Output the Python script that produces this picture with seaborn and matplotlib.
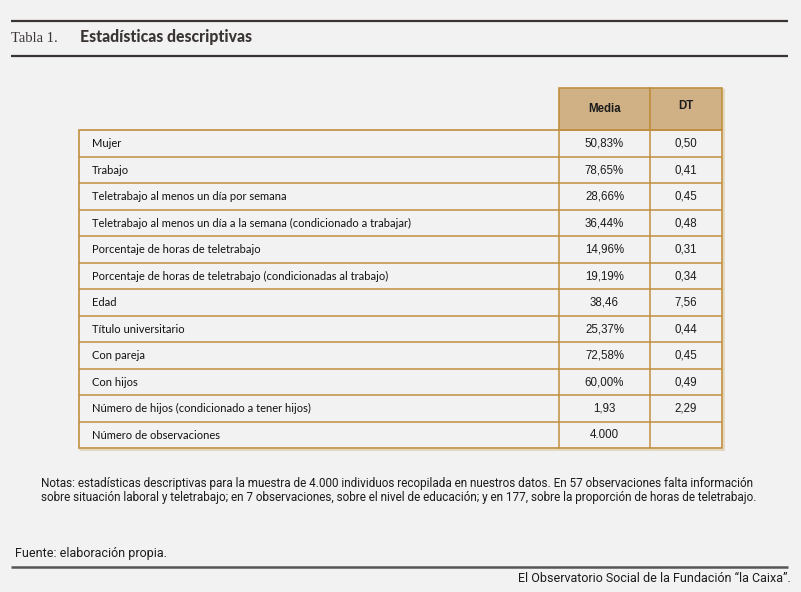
import matplotlib
matplotlib.use("Agg")
import matplotlib.pyplot as plt
from matplotlib import font_manager
from matplotlib.patches import Rectangle
import seaborn as sns

# ---------------- data ----------------
title_num = "Tabla 1."
title_text = "Estadísticas descriptivas"
col_headers = ["Media", "DT"]
row_labels = [
    "Mujer",
    "Trabajo",
    "Teletrabajo al menos un día por semana",
    "Teletrabajo al menos un día a la semana (condicionado a trabajar)",
    "Porcentaje de horas de teletrabajo",
    "Porcentaje de horas de teletrabajo (condicionadas al trabajo)",
    "Edad",
    "Título universitario",
    "Con pareja",
    "Con hijos",
    "Número de hijos (condicionado a tener hijos)",
    "Número de observaciones",
]
media_vals = ["50,83%", "78,65%", "28,66%", "36,44%", "14,96%", "19,19%",
              "38,46", "25,37%", "72,58%", "60,00%", "1,93", "4.000"]
dt_vals = ["0,50", "0,41", "0,45", "0,48", "0,31", "0,34",
           "7,56", "0,44", "0,45", "0,49", "2,29", ""]
notes_lines = [
    "Notas: estadísticas descriptivas para la muestra de 4.000 individuos recopilada en nuestros datos. En 57 observaciones falta información",
    "sobre situación laboral y teletrabajo; en 7 observaciones, sobre el nivel de educación; y en 177, sobre la proporción de horas de teletrabajo.",
]
source_text = "Fuente: elaboración propia."
footer_text = "El Observatorio Social de la Fundación “la Caixa”."

# ---------------- style ----------------
BG = "#f2f2f2"
GOLD = "#c08f3e"
SHADOW = "#e3d3b8"
HEAD = "#cfb185"
TXT = "#1c1c1c"
RULE = "#3a3533"

sns.set_theme(style="white", rc={"figure.facecolor": BG, "axes.facecolor": BG})

avail = {f.name for f in font_manager.fontManager.ttflist}
narrow = "Liberation Sans Narrow" if "Liberation Sans Narrow" in avail else "Roboto"
label_font = ["Lato", "DejaVu Sans"]
num_font = ["Liberation Sans", "DejaVu Sans"]

W, H = 801, 592
fig = plt.figure(figsize=(W / 100, H / 100), dpi=100)
ax = fig.add_axes([0, 0, 1, 1])
ax.set_xlim(0, W)
ax.set_ylim(H, 0)
ax.axis("off")

# title rules
ax.plot([11, 788], [21, 21], color=RULE, lw=1.6, solid_capstyle="butt")
ax.plot([11, 788], [56, 56], color=RULE, lw=1.6, solid_capstyle="butt")
ax.text(11, 38, title_num, family=["Liberation Serif", "DejaVu Serif"], fontsize=10.5,
        color=RULE, va="center", ha="left")
ax.text(80, 37, title_text, family=["Lato", "DejaVu Sans"], fontweight="black",
        fontsize=11.3, color=RULE, va="center", ha="left")

# table geometry
x_left, x_media, x_dt, x_right = 79, 559, 650, 722
y_head, y_top, y_bot = 88, 130, 448
n = len(row_labels)
rh = (y_bot - y_top) / n

# subtle shadow lines (right/bottom of borders)
ax.plot([x_right + 1.5, x_right + 1.5], [y_head + 1, y_bot + 1.5], color=SHADOW, lw=1.2)
ax.plot([x_left + 1, x_right + 1.5], [y_bot + 1.5, y_bot + 1.5], color=SHADOW, lw=1.2)

# header cells
for x0, x1, lab, dy in [(x_media, x_dt, col_headers[0], 0), (x_dt, x_right, col_headers[1], -3)]:
    ax.add_patch(Rectangle((x0, y_head), x1 - x0, y_top - y_head, facecolor=HEAD,
                           edgecolor=GOLD, lw=1.2))
    ax.text((x0 + x1) / 2, (y_head + y_top) / 2 + dy, lab, family=num_font,
            fontweight="bold", fontsize=8.3, color=TXT, ha="center", va="center")

# body
for i, (lab, m, d) in enumerate(zip(row_labels, media_vals, dt_vals)):
    y0 = y_top + i * rh
    yc = y0 + rh / 2 + 0.5
    ax.text(92, yc, lab, family=label_font, fontsize=8.0, color="#111111",
            ha="left", va="center")
    ax.text((x_media + x_dt) / 2, yc, m, family=num_font, fontsize=8.3, color=TXT,
            ha="center", va="center")
    ax.text((x_dt + x_right) / 2, yc, d, family=num_font, fontsize=8.3, color=TXT,
            ha="center", va="center")
    if i > 0:
        ax.plot([x_left, x_right], [y0, y0], color=GOLD, lw=1.1, solid_capstyle="butt")

ax.add_patch(Rectangle((x_left, y_top), x_right - x_left, y_bot - y_top, facecolor="none",
                       edgecolor=GOLD, lw=1.2))
for xv in (x_media, x_dt):
    ax.plot([xv, xv], [y_top, y_bot], color=GOLD, lw=1.1)

# notes
for k, line in enumerate(notes_lines):
    ax.text(41, 484 + k * 14, line, family=[narrow, "DejaVu Sans"], fontsize=8.45,
            color=TXT, ha="left", va="center")

ax.text(15, 554, source_text, family=[narrow, "DejaVu Sans"], fontsize=9.0, color=TXT,
        ha="left", va="center")
ax.plot([11, 788], [567, 567], color="#555555", lw=1.8, solid_capstyle="butt")
ax.text(791, 578, footer_text, family=[narrow, "DejaVu Sans"], fontsize=9.0, color=TXT,
        ha="right", va="center")

fig.savefig("out.png", dpi=100, facecolor=BG)
